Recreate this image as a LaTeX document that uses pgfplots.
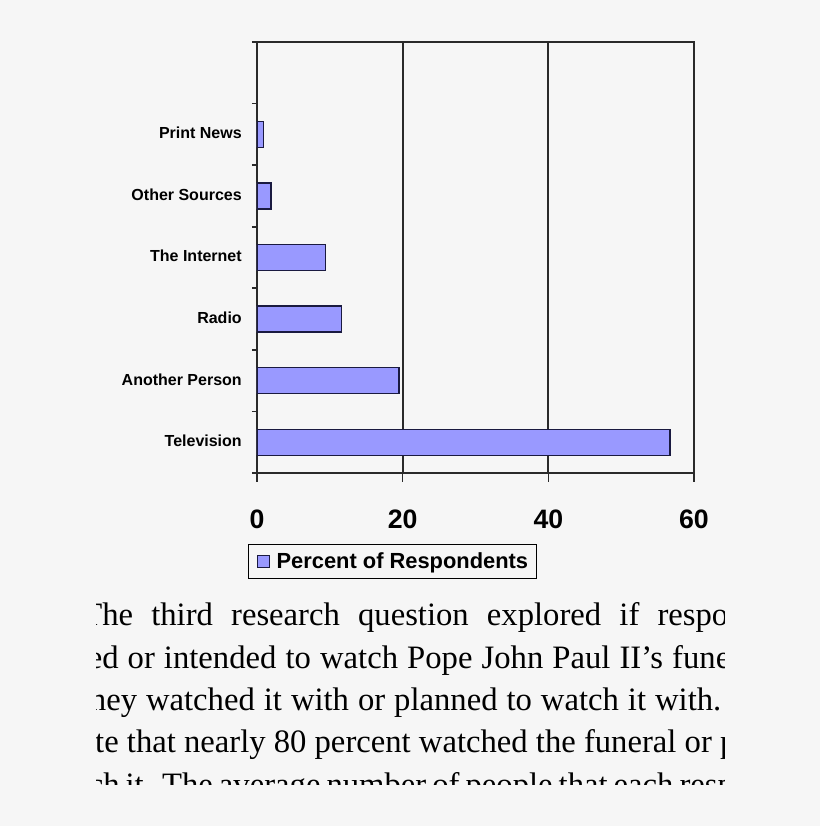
\documentclass[border=0pt]{standalone}
\usepackage{fontspec}
\usepackage{pgfplots}
\pgfplotsset{compat=1.18}
\newfontfamily\arial{Liberation Sans}
\newfontfamily\bodyfont{Liberation Serif}
\definecolor{bg}{HTML}{F6F6F6}
\definecolor{barfill}{HTML}{9999FF}
\definecolor{bardraw}{HTML}{1A1A40}
\definecolor{axisgray}{HTML}{2A2A2A}

\begin{document}
\begin{tikzpicture}[x=0.75pt,y=0.75pt]
\path[use as bounding box, fill=bg] (0,0) rectangle (820,826);
\begin{axis}[
  at={(192.75pt,264.75pt)}, anchor=south west,
  scale only axis, width=327.75pt, height=323.25pt,
  xbar, bar width=19.5pt, bar shift=0pt,
  xmin=0, xmax=60, ymin=-0.5, ymax=6.5,
  xtick={0,20,40,60}, xticklabels={0,20,40,60},
  ytick={0,...,5},
  yticklabels={Television,Another Person,Radio,The Internet,Other Sources,Print News},
  minor ytick={-0.5,0.5,...,6.5},
  xtick pos=bottom, ytick pos=left,
  tick align=outside,
  major tick length=6.75pt, minor tick length=3.75pt,
  major y tick style={draw=none},
  xmajorgrids, grid style={axisgray, line width=1.3pt},
  axis line style={axisgray, line width=1.5pt},
  tick style={axisgray, line width=1.2pt},
  x tick label style={font=\arial\bfseries\fontsize{20}{24}\selectfont, inner sep=0pt, anchor=north, yshift=-21pt},
  y tick label style={font=\arial\bfseries\fontsize{12}{14}\selectfont, inner sep=0pt, anchor=east, xshift=-4.5pt, yshift=1pt},
  legend style={at={(-0.0206,-0.1647)}, anchor=north west, draw=black, line width=0.75pt,
    fill=bg, inner xsep=3pt, inner ysep=4.4pt,
    font=\arial\bfseries\fontsize{16.4}{18}\selectfont,
    nodes={inner xsep=3pt, inner ysep=1.5pt}},
  legend image code/.code={
    \path (0pt,0pt);
    \draw[#1, line width=0.75pt] (3.4pt,-4.7pt) rectangle (12.6pt,4.7pt);
    \path (14.1pt,0pt);},
]
\addplot[fill=barfill, draw=bardraw, line width=1pt] coordinates {
  (56.7,0) (19.5,1) (11.6,2) (9.4,3) (1.9,4) (0.9,5)
};
\addlegendentry{Percent of Respondents}
\end{axis}
\begin{scope}
\clip (96.5,41) rectangle (724,240);
\tikzset{bodyline/.style={anchor=base west, inner sep=0pt, font=\bodyfont\fontsize{24.5}{28}\selectfont}}
\node[bodyline] at (102,200) {\makebox[469.5pt][s]{\llap{T}he third research question explored if respo\rlap{ndents}}};
\node[bodyline] at (102,157) {\makebox[471pt][s]{\llap{watche}d or intended to watch Pope John Paul II’s fune\rlap{ral}}};
\node[bodyline] at (106,115) {\makebox[461.25pt][s]{\llap{th}ey watched it with or planned to watch it with.}};
\node[bodyline] at (104,73) {\makebox[474pt][s]{\llap{indicat}e that nearly 80 percent watched the funeral or p\rlap{lanned}}};
\node[bodyline] at (103,31) {\makebox[473pt][s]{\llap{to watc}h it. The average number of people that each resp\rlap{ondent}}};
\end{scope}
\end{tikzpicture}
\end{document}
